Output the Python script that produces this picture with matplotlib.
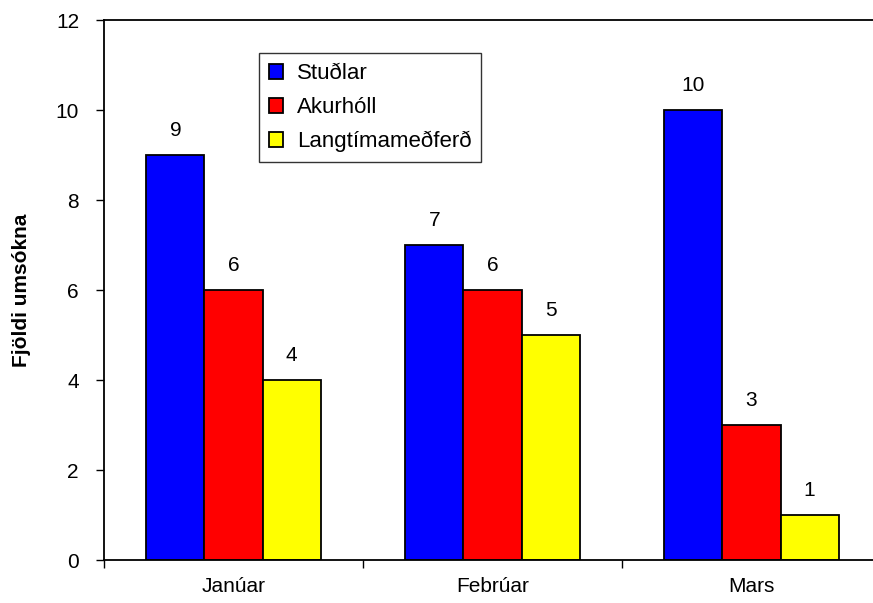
import matplotlib
matplotlib.use("Agg")
import matplotlib.pyplot as plt
import numpy as np

# gögn
manudir = ["Janúar", "Febrúar", "Mars"]
studlar = [9, 7, 10]
akurholl = [6, 6, 3]
langtima = [4, 5, 1]
heiti = ["Stuðlar", "Akurhóll", "Langtímameðferð"]
litir = ["#0000ff", "#ff0000", "#ffff00"]

plt.rcParams['font.family'] = ['Liberation Sans', 'DejaVu Sans']

fig = plt.figure(figsize=(8.73, 6.03), dpi=100)
ax = fig.add_axes([104/873, 43/603, 777/873, 540/603])

x = np.arange(len(manudir))
w = 0.224
for i, (vals, nafn, lit) in enumerate(zip([studlar, akurholl, langtima], heiti, litir)):
    pos = x + (i - 1) * w
    ax.bar(pos, vals, width=w, color=lit, edgecolor="black", linewidth=1.3, label=nafn)
    for p, v in zip(pos, vals):
        ax.text(p, v + 0.33, str(v), ha="center", va="bottom", fontsize=15)

ax.set_xlim(-0.5, 2.5)
ax.set_ylim(0, 12)
ax.set_yticks(range(0, 13, 2))
ax.tick_params(axis="y", labelsize=15, length=6, width=1, pad=12)
ax.set_xticks(x)
ax.set_xticklabels(manudir, fontsize=15)
ax.tick_params(axis="x", which="major", length=0, pad=12)
ax.set_xticks([-0.5, 0.5, 1.5], minor=True)
ax.tick_params(axis="x", which="minor", length=6, width=1)
ax.spines["right"].set_visible(False)
for s in ["left", "bottom", "top"]:
    ax.spines[s].set_linewidth(1.3)

ax.set_ylabel("Fjöldi umsókna", fontsize=15, fontweight="bold", labelpad=18)

leg = ax.legend(loc="upper left", bbox_to_anchor=(155/777, 1 - 33/540), fontsize=16,
                frameon=True, fancybox=False, edgecolor="black", handlelength=0.65,
                handleheight=0.65, labelspacing=0.58, borderpad=0.45, handletextpad=0.6,
                borderaxespad=0)
leg.get_frame().set_linewidth(1.0)

fig.savefig("out.png", dpi=100)
